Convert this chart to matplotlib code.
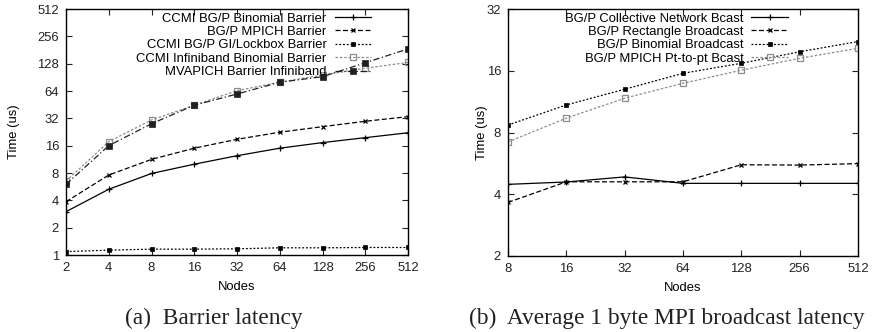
import matplotlib
matplotlib.use("Agg")
import matplotlib.pyplot as plt
from matplotlib.ticker import FixedLocator, FixedFormatter, NullLocator

plt.rcParams['font.family'] = ['Liberation Sans', 'DejaVu Sans']

# ---- data (a) Barrier latency ----
nodes_a = [2, 4, 8, 16, 32, 64, 128, 256, 512]
ccmi_bgp_binomial = [3.0, 5.3, 7.9, 10.0, 12.4, 15.0, 17.3, 19.6, 22.2]
bgp_mpich_barrier = [3.86, 7.6, 11.3, 15.0, 18.8, 22.5, 25.9, 29.7, 33.4]
ccmi_gi_lockbox = [1.09, 1.13, 1.16, 1.16, 1.17, 1.2, 1.2, 1.21, 1.21]
ccmi_ib_binomial = [6.5, 17.7, 30.7, 44.6, 64.5, 80, 96, 114, 132]
mvapich_ib = [6.0, 16.0, 27.9, 44.6, 59.3, 79.9, 92, 131, 186]
labels_a = ["CCMI BG/P Binomial Barrier", "BG/P MPICH Barrier",
            "CCMI BG/P GI/Lockbox Barrier", "CCMI Infiniband Binomial Barrier",
            "MVAPICH Barrier Infiniband"]
yticks_a = [1, 2, 4, 8, 16, 32, 64, 128, 256, 512]

# ---- data (b) broadcast latency ----
nodes_b = [8, 16, 32, 64, 128, 256, 512]
collective_bcast = [4.47, 4.59, 4.86, 4.52, 4.52, 4.52, 4.52]
rectangle_bcast = [3.65, 4.6, 4.6, 4.6, 5.57, 5.55, 5.64]
binomial_bcast = [8.7, 10.9, 13.0, 15.55, 17.4, 19.8, 22.2]
mpich_p2p_bcast = [7.2, 9.4, 11.75, 13.9, 16.1, 18.4, 20.6]
labels_b = ["BG/P Collective Network Bcast", "BG/P Rectangle Broadcast",
            "BG/P Binomial Broadcast", "BG/P MPICH Pt-to-pt Bcast"]
yticks_b = [2, 4, 8, 16, 32]

fig = plt.figure(figsize=(8.76, 3.32), dpi=100)
axa = fig.add_axes([66/876, 1-255/332, 342/876, 246/332])
axb = fig.add_axes([508/876, 1-256/332, 350/876, 247/332])

fs = 9.4
lw = 0.9

def style(ax, xt, yt, ylab_x):
    ax.set_xscale('log', base=2)
    ax.set_yscale('log', base=2)
    ax.set_xlim(xt[0], xt[-1])
    ax.set_ylim(yt[0], yt[-1])
    ax.xaxis.set_major_locator(FixedLocator(xt))
    ax.xaxis.set_major_formatter(FixedFormatter([str(v) for v in xt]))
    ax.yaxis.set_major_locator(FixedLocator(yt))
    ax.yaxis.set_major_formatter(FixedFormatter([str(v) for v in yt]))
    ax.xaxis.set_minor_locator(NullLocator())
    ax.yaxis.set_minor_locator(NullLocator())
    ax.tick_params(direction='in', length=4.5, width=0.8, top=True, right=True,
                   labelsize=fs, colors='#222222', pad=5)
    for s in ax.spines.values():
        s.set_linewidth(1.0)
    ax.set_xlabel("Nodes", fontsize=fs, labelpad=5)
    ax.set_ylabel("Time (us)", fontsize=fs)
    ax.yaxis.set_label_coords(ylab_x, 0.5)

# panel (a)
axa.plot(nodes_a, ccmi_bgp_binomial, color='black', lw=lw, ls='-', marker='+', ms=4.5, mew=0.9)
axa.plot(nodes_a, bgp_mpich_barrier, color='black', lw=lw, ls=(0, (4, 2)), marker='x', ms=3.5, mew=0.9)
axa.plot(nodes_a, ccmi_gi_lockbox, color='black', lw=lw, ls=(0, (1.5, 1.5)), marker='s', ms=3, mew=0.5)
axa.plot(nodes_a, ccmi_ib_binomial, color='#8c8c8c', lw=lw, ls=(0, (2, 1.5)), marker='s', ms=4.5, mew=0.9, mfc='none')
axa.plot(nodes_a, mvapich_ib, color='#202020', lw=lw, ls=(0, (5, 2, 1, 2)), marker='s', ms=4, mew=0.5)
la = axa.legend(labels_a, loc='upper right', bbox_to_anchor=(0.892, 0.986), frameon=False,
                markerfirst=False, fontsize=fs, handlelength=2.8, handletextpad=0.6,
                labelspacing=0.1, borderpad=0, borderaxespad=0, numpoints=1)
style(axa, nodes_a, yticks_a, (19.5 - 66) / 342)

# panel (b)
axb.plot(nodes_b, collective_bcast, color='black', lw=lw, ls='-', marker='+', ms=4.5, mew=0.9)
axb.plot(nodes_b, rectangle_bcast, color='black', lw=lw, ls=(0, (4, 2)), marker='x', ms=3.5, mew=0.9)
axb.plot(nodes_b, binomial_bcast, color='black', lw=lw, ls=(0, (1.5, 1.5)), marker='s', ms=3, mew=0.5)
axb.plot(nodes_b, mpich_p2p_bcast, color='#8c8c8c', lw=lw, ls=(0, (2, 1.5)), marker='s', ms=4.5, mew=0.9, mfc='none')
lb = axb.legend(labels_b, loc='upper right', bbox_to_anchor=(0.80, 0.986), frameon=False,
                markerfirst=False, fontsize=fs, handlelength=2.8, handletextpad=0.6,
                labelspacing=0.1, borderpad=0, borderaxespad=0, numpoints=1)
style(axb, nodes_b, yticks_b, (488.5 - 508) / 350)

fig.text(214/876, 1-318/332, "(a)  Barrier latency", ha='center', va='center',
         fontsize=16.8, family=['Liberation Serif', 'DejaVu Serif'], color='#222222')
fig.text(667/876, 1-318/332, "(b)  Average 1 byte MPI broadcast latency", ha='center', va='center',
         fontsize=16.8, family=['Liberation Serif', 'DejaVu Serif'], color='#222222')

fig.savefig("out.png", dpi=100)
